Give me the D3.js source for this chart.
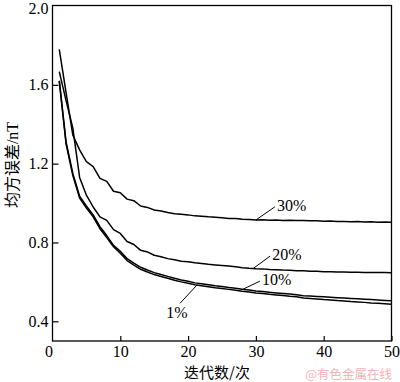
<!DOCTYPE html>
<html><head><meta charset="utf-8">
<script src="https://cdn.jsdelivr.net/npm/d3@7"></script>
<style>
html,body{margin:0;padding:0;background:#fff;}
svg{display:block;}
.serif{font-family:"Liberation Serif","Times New Roman","DejaVu Serif",serif;}
.cjk{font-family:"Noto Sans CJK SC","Noto Sans CJK JP",sans-serif;}
</style></head>
<body>
<svg id="c" width="400" height="382"></svg>
<script>
// ---- data ----
const iterations = d3.range(1, 51);
const seriesNames = ["30%", "20%", "10%", "1%"];
const s30 = [1.78,1.56,1.345,1.27,1.21,1.185,1.125,1.11,1.06,1.052,
  1.02,1.012,0.985,0.978,0.965,0.960,0.952,0.946,0.943,0.940,
  0.935,0.933,0.930,0.928,0.925,0.922,0.922,0.918,0.916,0.914,
  0.915,0.913,0.914,0.912,0.913,0.911,0.912,0.910,0.910,0.908,
  0.909,0.907,0.907,0.905,0.906,0.904,0.905,0.903,0.904,0.902];
const s20 = [1.667,1.52,1.38,1.13,1.04,0.98,0.93,0.912,0.865,0.846,
  0.805,0.79,0.76,0.752,0.735,0.728,0.718,0.712,0.705,0.702,
  0.697,0.693,0.689,0.686,0.683,0.680,0.677,0.672,0.669,0.667,
  0.666,0.663,0.662,0.660,0.659,0.657,0.656,0.654,0.654,0.652,
  0.652,0.650,0.650,0.649,0.649,0.648,0.648,0.647,0.647,0.646];
const s10 = [1.62,1.31,1.15,1.035,0.985,0.94,0.88,0.835,0.785,0.755,
  0.718,0.695,0.674,0.660,0.647,0.637,0.628,0.618,0.610,0.603,
  0.595,0.590,0.585,0.580,0.576,0.572,0.568,0.563,0.559,0.554,
  0.551,0.547,0.544,0.541,0.538,0.535,0.530,0.528,0.526,0.524,
  0.522,0.520,0.518,0.516,0.514,0.512,0.510,0.508,0.506,0.504];
const s1 = [1.62,1.30,1.14,1.025,0.975,0.93,0.87,0.825,0.778,0.745,
  0.708,0.685,0.664,0.650,0.637,0.627,0.618,0.608,0.600,0.593,
  0.585,0.580,0.575,0.570,0.566,0.562,0.558,0.553,0.549,0.544,
  0.541,0.537,0.534,0.531,0.527,0.524,0.518,0.516,0.513,0.510,
  0.508,0.505,0.503,0.500,0.498,0.496,0.493,0.491,0.489,0.487];
const seriesValues = [s30, s20, s10, s1];
const xTicks = [0, 10, 20, 30, 40, 50];
const yTicks = [0.4, 0.8, 1.2, 1.6, 2.0];
// annotation: curve x where leader starts, leader end (data units)
const annoCurveX = [30, 29.6, 28.1, 21.3];
const annoEndX = [32.8, 32.1, 30.6, 18.8];
const annoEndY = [0.981, 0.731, 0.604, 0.491];
const xLabel = "迭代数/次";
const yLabelCJK = "均方误差";
const yLabelUnit = "/nT";
const watermark = "@有色金属在线";

// ---- drawing ----
const svg = d3.select("#c");
const L = 52.5, R = 391.5, T = 6, B = 341;
const x = d3.scaleLinear().domain([0, 50]).range([L, R]);
const y = d3.scaleLinear().domain([0.3, 2.0]).range([B, T]);

// frame
svg.append("rect").attr("x", L).attr("y", y(2.0) - 0.5).attr("width", R - L).attr("height", B - y(2.0) + 0.5)
  .attr("fill", "none").attr("stroke", "#000").attr("stroke-width", 1.3);

const xAxis = svg.append("g").attr("transform", `translate(0,${B})`)
  .call(d3.axisBottom(x).tickValues(xTicks).tickSize(-5).tickPadding(5).tickFormat(d3.format("d")));
const yAxis = svg.append("g").attr("transform", `translate(${L},0)`)
  .call(d3.axisLeft(y).tickValues(yTicks).tickSize(-6).tickPadding(4).tickFormat(d3.format(".1f")));
[xAxis, yAxis].forEach(g => {
  g.attr("font-family", null).attr("font-size", null);
  g.select(".domain").remove();
  g.selectAll("line").attr("stroke", "#000").attr("stroke-width", 1.2);
  g.selectAll("text").attr("fill", "#000").attr("class", "serif").style("font-size", "16px");
});
yAxis.selectAll(".tick").filter(d => d === 2.0).select("line").remove();
yAxis.selectAll(".tick").filter(d => d === 2.0).select("text").attr("dy", "0.45em");
xAxis.selectAll(".tick").filter(d => d === 0).select("line").remove();
xAxis.selectAll(".tick").filter(d => d === 0).select("text").attr("x", -4);

// curves
const line = d3.line().x((d, i) => x(iterations[i])).y(d => y(d));
seriesValues.forEach((vals, k) => {
  svg.append("path").datum(vals).attr("d", line)
    .attr("fill", "none").attr("stroke", "#000").attr("stroke-width", 1.5)
    .attr("stroke-linejoin", "round");
});

// annotations
seriesNames.forEach((name, k) => {
  const cx = annoCurveX[k];
  const i0 = Math.floor(cx) - 1;
  const f = cx - Math.floor(cx);
  const vals = seriesValues[k];
  const cy = vals[i0] + (vals[i0 + 1] - vals[i0]) * f;
  const ex = x(annoEndX[k]), ey = y(annoEndY[k]);
  svg.append("line").attr("x1", x(cx)).attr("y1", y(cy)).attr("x2", ex).attr("y2", ey)
    .attr("stroke", "#000").attr("stroke-width", 1);
  const t = svg.append("text").text(name).attr("class", "serif").style("font-size", "16px").attr("fill", "#000");
  if (name === "1%") {
    t.attr("x", ex - 3).attr("y", ey + 15).attr("text-anchor", "middle");
  } else {
    t.attr("x", ex + 2).attr("y", ey + 4);
  }
});

// axis titles
svg.append("text").attr("x", (L + R) / 2 - 5).attr("y", 378).attr("text-anchor", "middle")
  .attr("class", "cjk").style("font-size", "15px").attr("fill", "#000").text(xLabel);
const yl = svg.append("text").attr("transform", "translate(18,165) rotate(-90)").attr("text-anchor", "middle")
  .attr("fill", "#000");
yl.append("tspan").attr("class", "cjk").style("font-size", "16px").text(yLabelCJK);
yl.append("tspan").attr("class", "serif").style("font-size", "16px").text(yLabelUnit);

// watermark
svg.append("text").attr("x", 392).attr("y", 379).attr("text-anchor", "end")
  .attr("class", "cjk").style("font-size", "12.5px").attr("fill", "#f2b3b6").text(watermark);
</script>
</body></html>
